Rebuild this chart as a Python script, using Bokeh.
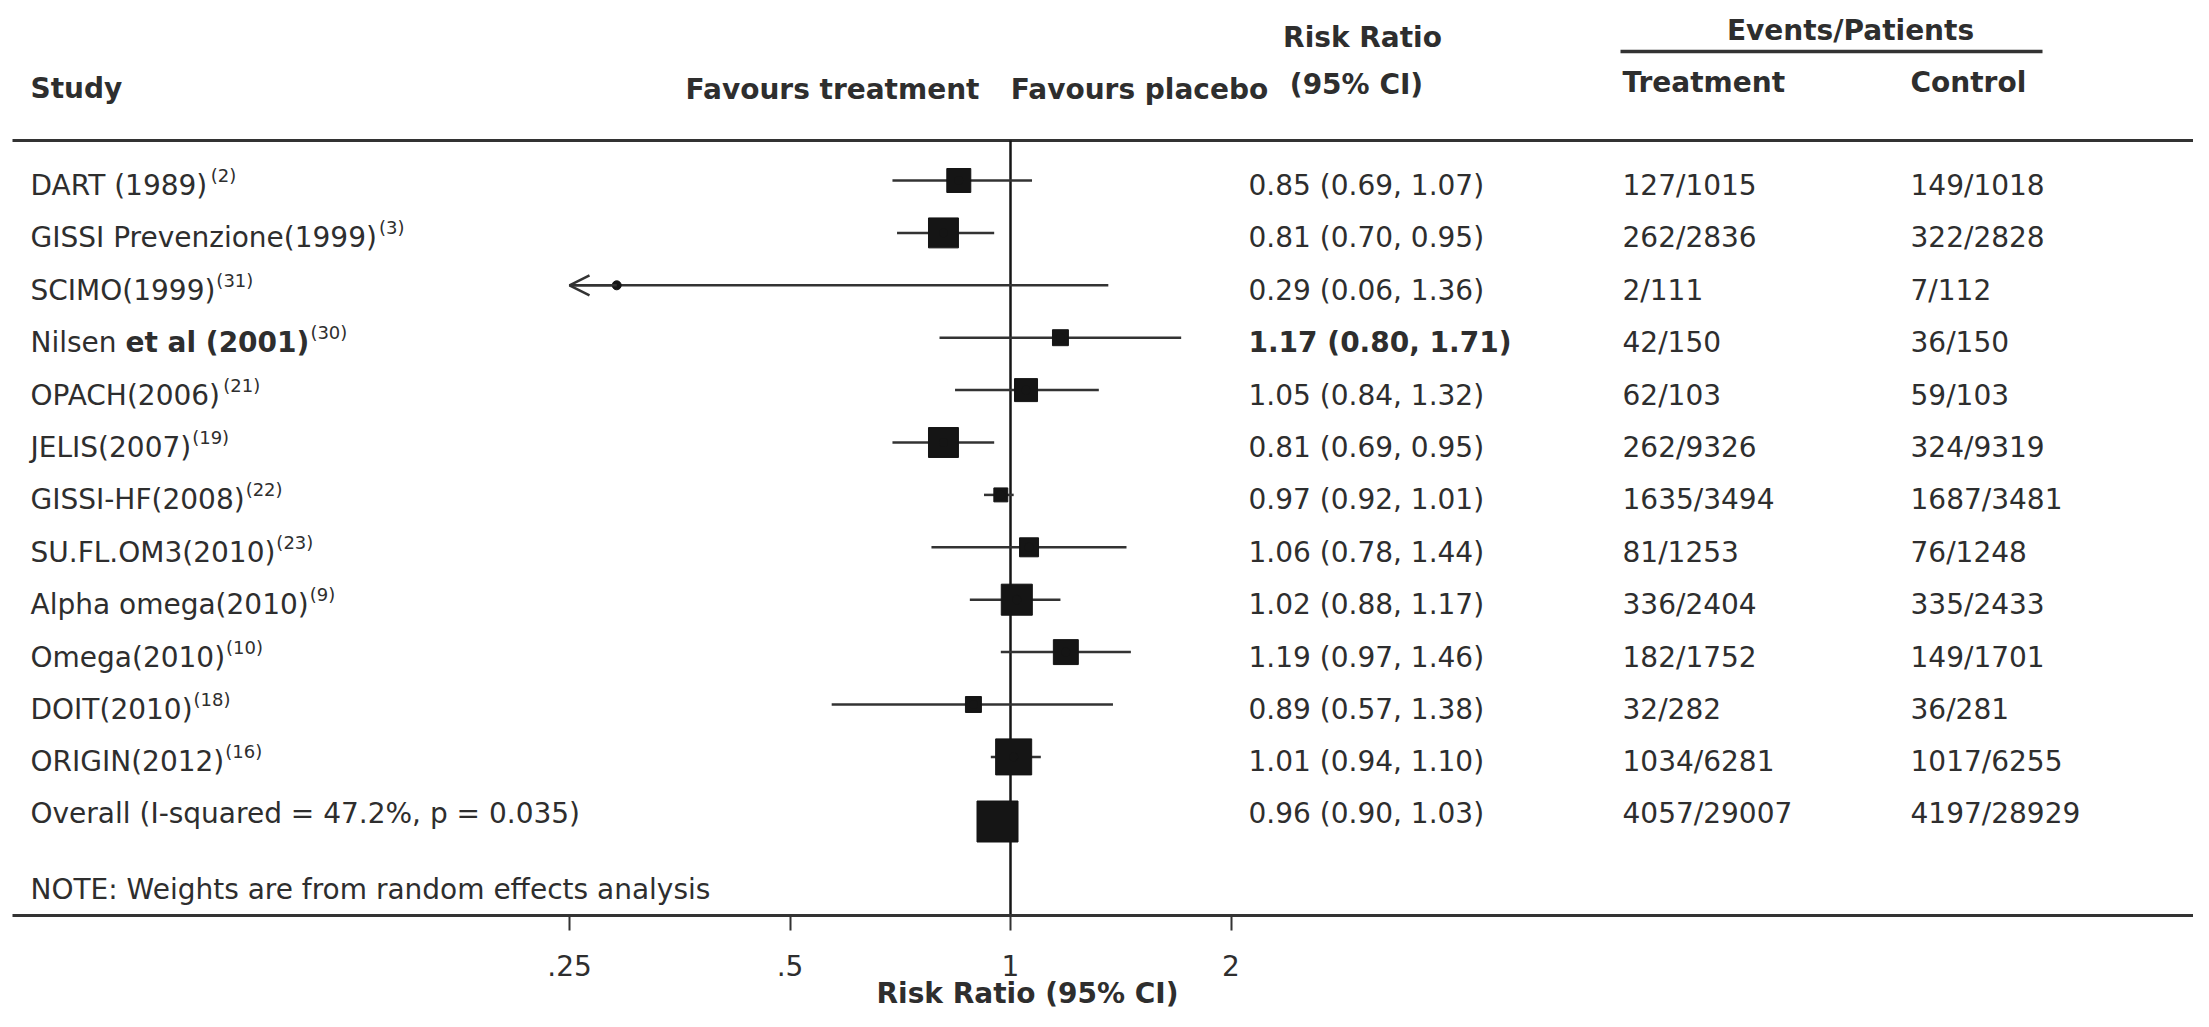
import math
from bokeh.plotting import figure
from bokeh.models import (Range1d, LogScale, LogAxis, FixedTicker, ColumnDataSource,
                          Arrow, OpenHead)
from bokeh.core.properties import value
from bokeh.embed import file_html
from bokeh.resources import INLINE

# ---------------- data ----------------
studies = ["DART (1989)", "GISSI Prevenzione(1999)", "SCIMO(1999)", "Nilsen et al (2001)",
           "OPACH(2006)", "JELIS(2007)", "GISSI-HF(2008)", "SU.FL.OM3(2010)",
           "Alpha omega(2010)", "Omega(2010)", "DOIT(2010)", "ORIGIN(2012)"]
refs = ["(2)", "(3)", "(31)", "(30)", "(21)", "(19)", "(22)", "(23)", "(9)", "(10)", "(18)", "(16)"]
rr = [0.85, 0.81, 0.29, 1.17, 1.05, 0.81, 0.97, 1.06, 1.02, 1.19, 0.89, 1.01]
lo = [0.69, 0.70, 0.06, 0.80, 0.84, 0.69, 0.92, 0.78, 0.88, 0.97, 0.57, 0.94]
hi = [1.07, 0.95, 1.36, 1.71, 1.32, 0.95, 1.01, 1.44, 1.17, 1.46, 1.38, 1.10]
weights = [8.6, 13.4, 0.5, 3.8, 7.9, 13.4, 2.9, 5.4, 14.4, 9.3, 3.8, 19.4]
treat_events = [127, 262, 2, 42, 62, 262, 1635, 81, 336, 182, 32, 1034]
treat_n = [1015, 2836, 111, 150, 103, 9326, 3494, 1253, 2404, 1752, 282, 6281]
ctrl_events = [149, 322, 7, 36, 59, 324, 1687, 76, 335, 149, 36, 1017]
ctrl_n = [1018, 2828, 112, 150, 103, 9319, 3481, 1248, 2433, 1701, 281, 6255]

overall_label = "Overall  (I-squared = 47.2%, p = 0.035)"
overall_rr = 0.96
overall_lo = 0.90
overall_hi = 1.03
note_text = "NOTE: Weights are from random effects analysis"

tick_vals = [0.25, 0.5, 1, 2]
tick_labels = [".25", ".5", "1", "2"]
axis_title = "Risk Ratio (95% CI)"

# ---------------- layout / style ----------------
W, H = 2193, 1011
FONT = "DejaVu Sans"
FS = 28
SUP_FS = 18
TXT = "#2e2e2e"
INK = "#151515"
X_ONE = 1010.0          # x of RR = 1
PX_DOUBLE = 220.5       # px per doubling
BOTTOM = 915            # y of the bottom rule (axis)
ROW_TOP, ROW_STEP = 180.0, 52.4
OVERALL_Y = 808.0
BOLD_ROW = 3
TEXT_DY = -10           # rendering correction for alphabetic baseline

W_REG = {' ': .318, '(': .390, ')': .390, ',': .318, '-': .361, '.': .318, '/': .337,
         '%': .950, '=': .838, ':': .337,
         'A': .684, 'C': .698, 'D': .770, 'E': .632, 'F': .575, 'G': .776, 'H': .752,
         'I': .295, 'J': .295, 'L': .557, 'M': .863, 'N': .748, 'O': .787, 'P': .603,
         'R': .695, 'S': .635, 'T': .611, 'U': .732, 'W': .989,
         'a': .613, 'b': .635, 'c': .550, 'd': .635, 'e': .615, 'f': .352, 'g': .635,
         'h': .634, 'i': .278, 'l': .278, 'm': .974, 'n': .634, 'o': .612, 'p': .635,
         'q': .635, 'r': .411, 's': .521, 't': .392, 'u': .634, 'v': .592, 'y': .592,
         'z': .525}
for d in "0123456789":
    W_REG[d] = .636
W_BOLD = {' ': .348, '(': .457, ')': .457, 'e': .678, 't': .478, 'a': .675, 'l': .343,
          '.': .380, ',': .380}
for d in "0123456789":
    W_BOLD[d] = .696


def text_w(s, size, bold=False):
    t = W_BOLD if bold else W_REG
    return sum(t.get(c, 0.62) for c in s) * size


n = len(studies)
row_y = [ROW_TOP + ROW_STEP * i for i in range(n)]
axis_min = tick_vals[0]
lo_draw = [max(v, axis_min) for v in lo]
sizes = [8.18 * math.sqrt(w) for w in weights]
rr_txt = [f"{a:.2f} ({b:.2f}, {c:.2f})" for a, b, c in zip(rr, lo, hi)]
treat_txt = [f"{e}/{m}" for e, m in zip(treat_events, treat_n)]
ctrl_txt = [f"{e}/{m}" for e, m in zip(ctrl_events, ctrl_n)]
overall_rr_txt = f"{overall_rr:.2f} ({overall_lo:.2f}, {overall_hi:.2f})"
overall_treat = f"{sum(treat_events)}/{sum(treat_n)}"
overall_ctrl = f"{sum(ctrl_events)}/{sum(ctrl_n)}"

# ---------------- figure ----------------
p = figure(width=W, height=H, x_range=Range1d(0, W), y_range=Range1d(H, 0),
           output_backend="svg", toolbar_location=None, x_axis_location=None,
           y_axis_location=None, min_border=0, outline_line_color=None,
           background_fill_color="white", border_fill_color="white")
p.xgrid.visible = False
p.ygrid.visible = False


def px_to_rr(px):
    return 2 ** ((px - X_ONE) / PX_DOUBLE)


p.extra_x_ranges = {"rr": Range1d(px_to_rr(0), px_to_rr(W))}
p.extra_x_scales = {"rr": LogScale()}

ax = LogAxis(x_range_name="rr", fixed_location=BOTTOM,
             bounds=(px_to_rr(12), px_to_rr(W)),
             ticker=FixedTicker(ticks=tick_vals, minor_ticks=[]),
             major_label_overrides={float(v): l for v, l in zip(tick_vals, tick_labels)})
ax.axis_line_width = 3
ax.axis_line_color = "#333333"
ax.major_tick_in = 0
ax.major_tick_out = 15
ax.major_tick_line_width = 2
ax.major_tick_line_color = "#333333"
ax.minor_tick_out = 0
ax.minor_tick_in = 0
ax.major_label_text_font = FONT
ax.major_label_text_font_size = f"{FS}px"
ax.major_label_text_color = TXT
ax.major_label_standoff = 24
p.add_layout(ax, "below")

# rules
p.segment(x0=[12], x1=[W], y0=[140], y1=[140], line_width=3, line_color="#333333")
p.segment(x0=[1620], x1=[2042], y0=[51], y1=[51], line_width=3.5, line_color="#333333")

# null line
p.segment(x0=[1.0], x1=[1.0], y0=[140], y1=[BOTTOM], x_range_name="rr",
          line_width=2.5, line_color=INK)

src = ColumnDataSource(dict(y=row_y, rr=rr, lo=lo_draw, hi=hi, size=sizes))
p.segment(x0="lo", x1="hi", y0="y", y1="y", source=src, x_range_name="rr",
          line_width=2.5, line_color="#333333")
p.scatter(x="rr", y="y", size="size", marker="square", source=src, x_range_name="rr",
          fill_color=INK, line_color=INK)
p.scatter(x="rr", y="y", size=9, marker="circle", source=src, x_range_name="rr",
          fill_color=INK, line_color=INK)

clip_idx = [i for i in range(n) if lo[i] < axis_min]
arr_src = ColumnDataSource(dict(x0=[rr[i] for i in clip_idx], x1=[axis_min] * len(clip_idx),
                                y=[row_y[i] for i in clip_idx]))
p.add_layout(Arrow(end=OpenHead(size=20, line_width=2.5, line_color="#333333"),
                   x_start="x0", x_end="x1", y_start="y", y_end="y", source=arr_src,
                   x_range_name="rr", line_width=2.5, line_color="#333333"))

# overall
p.scatter(x=[overall_rr], y=[OVERALL_Y + 13], size=41, marker="square", x_range_name="rr",
          fill_color=INK, line_color=INK)


def txt(x, y, s, size=FS, bold=False, align="left", color=TXT, **kw):
    ys = y if isinstance(y, list) else [y]
    ys = [v + TEXT_DY for v in ys]
    xs = x if isinstance(x, list) else [x] * len(ys)
    ss = s if isinstance(s, list) else [s]
    p.text(x=xs, y=ys, text=ss, text_font=value(FONT),
           text_font_size=f"{size}px", text_font_style="bold" if bold else "normal",
           text_align=align, text_baseline="alphabetic", text_color=color, **kw)


base = [y + 15 for y in row_y]
# study labels
for i in range(n):
    if i == BOLD_ROW:
        first, rest = studies[i].split(" ", 1)
        txt(30, base[i], first)
        xb = 30 + text_w(first + " ", FS)
        txt(xb, base[i], rest, bold=True)
        end = xb + text_w(rest, FS, bold=True)
    else:
        txt(30, base[i], studies[i])
        end = 30 + text_w(studies[i], FS)
    txt(end + 1, base[i] - 10, refs[i], size=SUP_FS)

# numeric columns
for i in range(n):
    txt(1248, base[i], rr_txt[i], bold=(i == BOLD_ROW))
txt(1622, base, treat_txt)
txt(1910, base, ctrl_txt)

ob = OVERALL_Y + 15
txt(30, ob, overall_label)
txt(1248, ob, overall_rr_txt)
txt(1622, ob, overall_treat)
txt(1910, ob, overall_ctrl)
txt(30, 899, note_text)

# headers
txt(30, 98, "Study", bold=True)
txt(832, 99, "Favours treatment", bold=True, align="center")
txt(1139, 99, "Favours placebo", bold=True, align="center")
txt(1362, 47, "Risk Ratio", bold=True, align="center")
txt(1356, 94, "(95% CI)", bold=True, align="center")
txt(1850, 40, "Events/Patients", bold=True, align="center")
txt(1622, 92, "Treatment", bold=True)
txt(1910, 92, "Control", bold=True)

# axis title
txt(1.0, 1003, axis_title, bold=True, align="center", x_range_name="rr", x_offset=17)

open("out.html", "w").write(file_html(p, INLINE))
